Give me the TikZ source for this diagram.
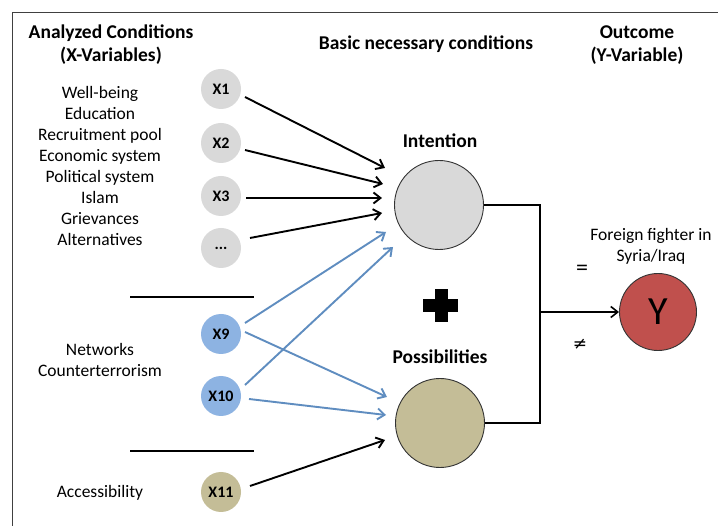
\documentclass[tikz,border=0pt]{standalone}
\usepackage{fontspec}
\setmainfont{Carlito}
\newfontfamily\symfont{DejaVu Sans}
\usetikzlibrary{arrows.meta}
\definecolor{cgray}{HTML}{D9D9D9}
\definecolor{cblue}{HTML}{8DB3E2}
\definecolor{ctan}{HTML}{C4BD97}
\definecolor{cred}{HTML}{C0504D}
\definecolor{ablue}{HTML}{5F8DC0}
\tikzset{
  xvar/.style={circle, minimum size=40pt, inner sep=0pt, font=\fontsize{16}{16}\selectfont\bfseries},
  bigc/.style={circle, draw=black!80, line width=0.9pt, minimum size=89pt, inner sep=0pt},
  lbl/.style={font=\fontsize{17.5}{21}\selectfont, align=center},
  hdr/.style={font=\fontsize{19.5}{23}\selectfont\bfseries, align=center},
  blk/.style={line width=1.9pt, black, -{Straight Barb[length=7pt,width=11pt,line width=1.9pt]}},
  blu/.style={line width=1.9pt, ablue, -{Straight Barb[length=7pt,width=11pt,line width=1.9pt]}},
}
\begin{document}
\begin{tikzpicture}[x=1pt,y=-1pt]
\useasboundingbox (0,0) rectangle (718,526);
\fill[white] (0,0) rectangle (718,526);
\draw[black!75, line width=0.9pt] (12,526) -- (12,12) -- (718,12);

% headers
\node[hdr] (h1) at (111,45) {Analyzed Conditions\\(X-Variables)};
\node[hdr] (h2) at (426,44) {Basic necessary conditions};
\node[hdr] (h3) at (637,45) {Outcome\\(Y-Variable)};

% left labels
\node[lbl] (list) at (100,166) {Well-being\\Education\\Recruitment pool\\Economic system\\Political system\\Islam\\Grievances\\Alternatives};
\node[lbl] (net) at (100,360) {Networks\\Counterterrorism};
\node[lbl] (acc) at (100,493) {Accessibility};

% separators
\draw[line width=1.8pt] (130,297) -- (254,297);
\draw[line width=1.8pt] (130,451) -- (254,451);

% X nodes
\node[xvar, fill=cgray] (x1) at (221,89) {X1};
\node[xvar, fill=cgray] (x2) at (221,143) {X2};
\node[xvar, fill=cgray] (x3) at (221,196) {X3};
\node[xvar, fill=cgray] (xd) at (221,248) {...};
\node[xvar, fill=cblue] (x9) at (221,334) {X9};
\node[xvar, fill=cblue] (x10) at (221,396) {X10};
\node[xvar, fill=ctan] (x11) at (221,492) {X11};

% big circles
\node[bigc, fill=cgray] (int) at (439,205) {};
\node[hdr] (intl) at (440,141) {Intention};
\node[bigc, fill=ctan] (pos) at (440,423) {};
\node[hdr] (posl) at (440,357) {Possibilities};
% plus sign
\fill (434.5,289) rectangle (447.5,322);
\fill (423,299) rectangle (458,312);

% Y
\node[circle, draw=black!80, line width=0.9pt, fill=cred, minimum size=77pt, inner sep=0pt, font=\fontsize{40}{40}\selectfont] (y) at (658,312) {Y};
\node[lbl] (ff) at (651,246) {Foreign fighter in\\Syria/Iraq};
\node[font=\fontsize{24}{24}\selectfont] (eq) at (582,270) {=};
\node[font=\symfont\fontsize{17}{17}\selectfont] (neq) at (580,344) {≠};

% connectors to Intention
\draw[blk] (245,97) -- (385,168);
\draw[blk] (245,150) -- (383,184);
\draw[blk] (246,198) -- (382,198);
\draw[blk] (250,238) -- (382,213);
\draw[blu] (245,323) -- (386,232);
\draw[blu] (245,385) -- (393,247);
% to Possibilities
\draw[blu] (245,332) -- (387,397);
\draw[blu] (249,399) -- (386,415);
\draw[blk] (250,486) -- (385,440);

% to Y
\coordinate (j) at (540,312);
\draw[line width=1.6pt] (int.east) -- (540,205) -- (540,423) -- (pos.east);
\draw[line width=1.6pt, -{Straight Barb[length=7pt,width=11pt,line width=1.6pt]}] (j) -- (y.west);
\end{tikzpicture}
\end{document}
